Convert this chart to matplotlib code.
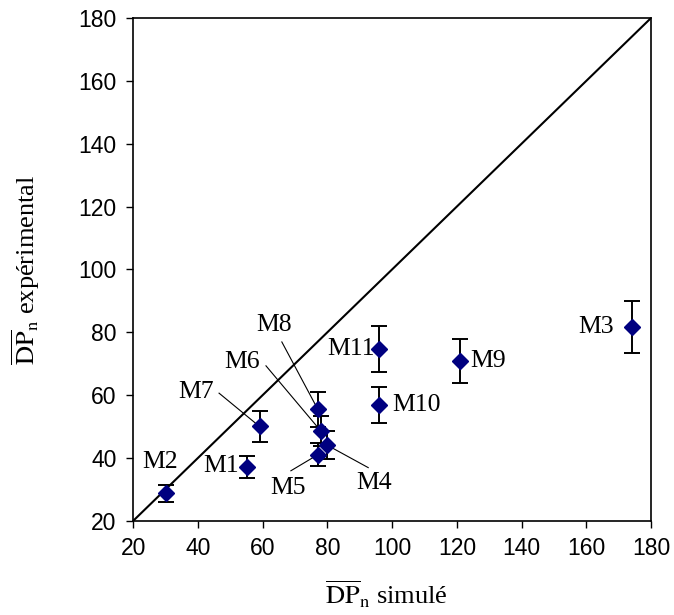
import matplotlib
matplotlib.use("Agg")
import matplotlib.pyplot as plt

plt.rcParams['mathtext.fontset'] = 'stix'

# samples, simulated DPn, experimental DPn, error on experimental value
names = ["M1", "M2", "M3", "M4", "M5", "M6", "M7", "M8", "M9", "M10", "M11"]
dp_sim = [55, 30, 174, 80, 77, 78, 59, 77, 121, 96, 96]
dp_exp = [37, 28.7, 81.7, 44, 41, 48.5, 50, 55.5, 70.8, 56.8, 74.6]
dp_err = [3.5, 2.8, 8.2, 4.4, 3.7, 4.8, 5.0, 5.6, 7.0, 5.7, 7.4]

# label placement (data coords) and optional start of leader line
label_pos = {
    "M1": (47.2, 37.4), "M2": (28.3, 38.7), "M3": (163.0, 81.6),
    "M4": (94.4, 31.9), "M5": (67.9, 30.3), "M6": (53.5, 70.4),
    "M7": (39.5, 61.0), "M8": (63.5, 82.3), "M9": (129.8, 70.8),
    "M10": (107.6, 56.8), "M11": (87.3, 74.6),
}
leader_start = {
    "M4": (92.6, 36.9), "M5": (68.7, 35.9), "M6": (61.0, 69.3),
    "M7": (46.5, 60.6), "M8": (65.9, 76.9),
}

fig = plt.figure(figsize=(6.74, 6.15), dpi=100)
ax = fig.add_axes([0.1978, 0.1533, 0.7681, 0.8174])

ax.plot([20, 180], [20, 180], color='black', lw=1.5, zorder=2)

for n in names:
    if n in leader_start:
        i = names.index(n)
        x0, y0 = leader_start[n]
        ax.plot([x0, dp_sim[i]], [y0, dp_exp[i]], color='black', lw=0.8, zorder=2)

ax.errorbar(dp_sim, dp_exp, yerr=dp_err, fmt='D', color='#000080', ms=8.5,
            ecolor='black', elinewidth=1.4, capsize=5.5, capthick=1.4, zorder=3)

for n in names:
    x, y = label_pos[n]
    ax.text(x, y, n, ha='center', va='center', fontsize=18.5,
            family='Liberation Serif', zorder=4)

ax.set_xlim(20, 180)
ax.set_ylim(20, 180)
ax.set_xticks(range(20, 181, 20))
ax.set_yticks(range(20, 181, 20))
ax.tick_params(direction='out', length=5, width=1, labelsize=16.5, pad=7)
for lab in ax.get_xticklabels() + ax.get_yticklabels():
    lab.set_family('Liberation Sans')
for sp in ax.spines.values():
    sp.set_linewidth(1.2)

ax.set_xlabel(r'$\overline{\mathrm{DP}}_{\mathrm{n}}$ simulé', fontsize=19,
              family='Liberation Serif')
ax.set_ylabel(r'$\overline{\mathrm{DP}}_{\mathrm{n}}$ expérimental', fontsize=19,
              family='Liberation Serif')
ax.xaxis.set_label_coords(0.488, -0.115)
ax.yaxis.set_label_coords(-0.176, 0.5)

fig.savefig('out.png', dpi=100)
plt.close(fig)
